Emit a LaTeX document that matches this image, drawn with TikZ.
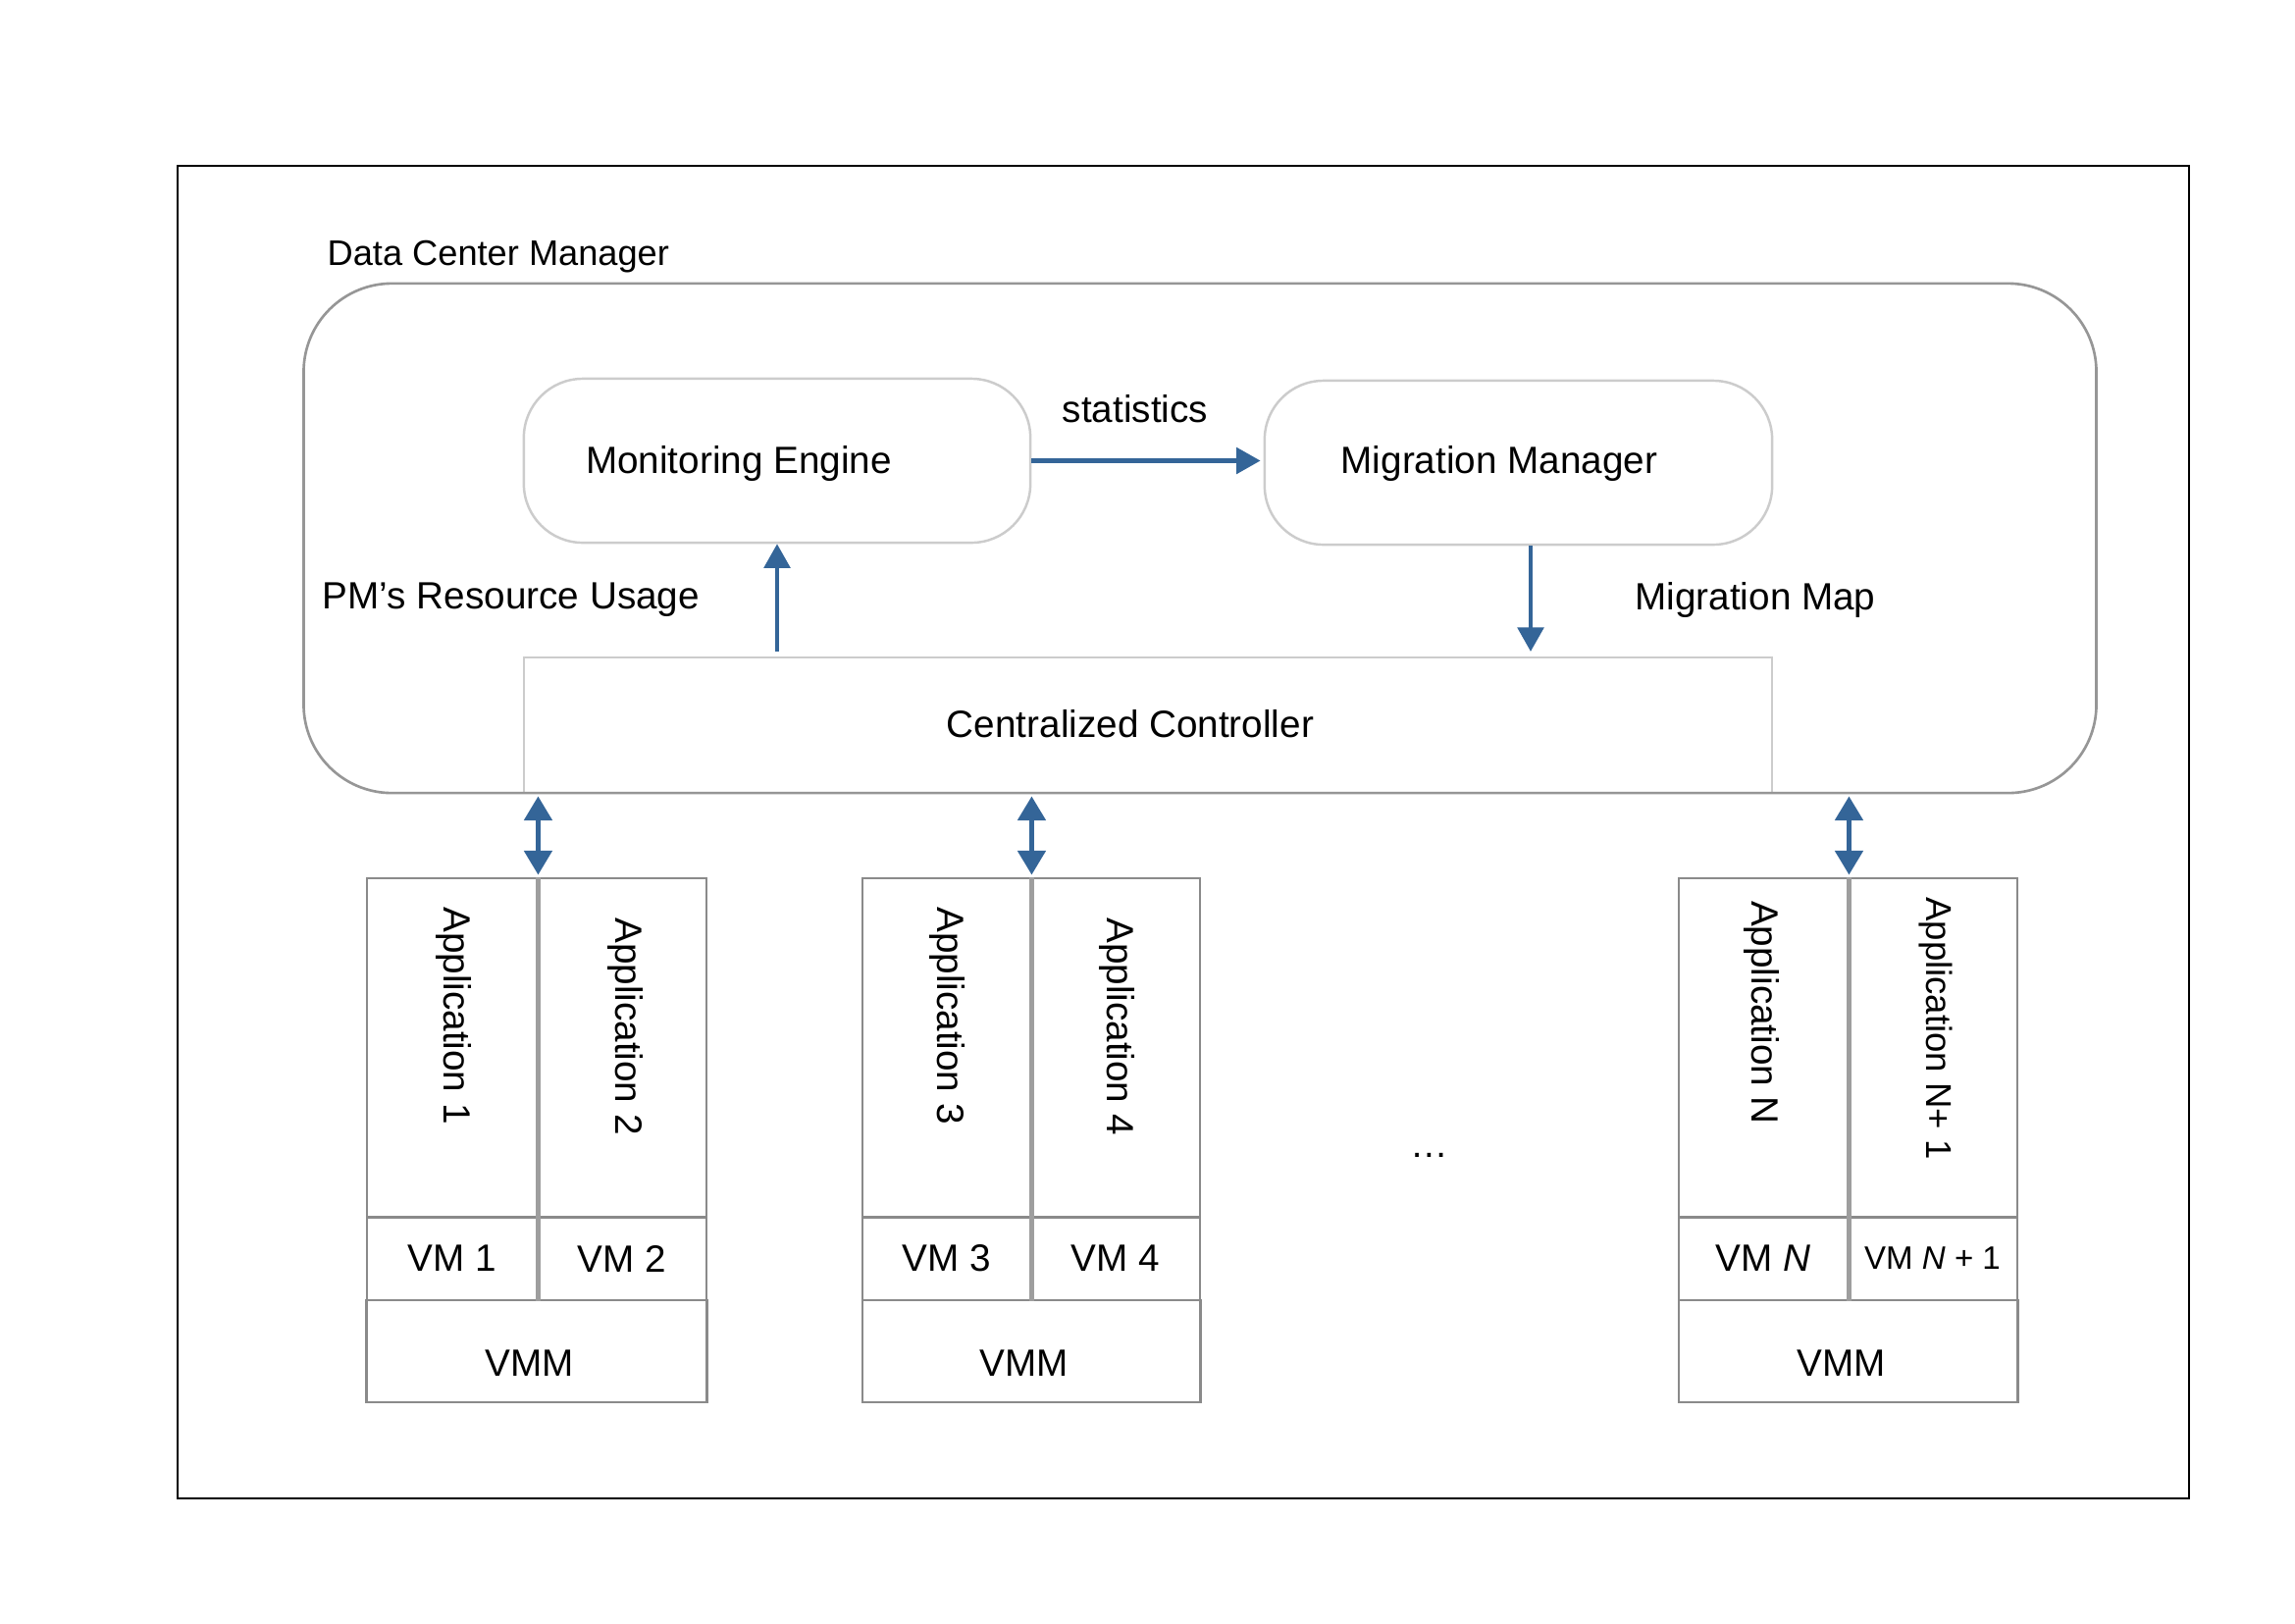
\documentclass[tikz,border=0pt]{standalone}
\usepackage{fontspec}
\setmainfont{Liberation Sans}
\usetikzlibrary{arrows.meta,calc}
\definecolor{arrowblue}{RGB}{52,101,152}
\definecolor{dcmgray}{RGB}{150,150,150}
\definecolor{softgray}{RGB}{204,204,204}
\definecolor{pmgray}{RGB}{138,138,138}
\definecolor{divgray}{RGB}{158,158,158}
\begin{document}
\begin{tikzpicture}[x=0.01cm,y=-0.01cm,
  txt/.style={inner sep=0pt, font=\fontsize{11}{13}\selectfont},
  apptxt/.style={txt, rotate=-90},
  dcmbox/.style={draw=dcmgray, line width=0.75pt, rounded corners=0.9cm, inner sep=0pt},
  softbox/.style={draw=softgray, line width=0.7pt, rounded corners=0.6cm, inner sep=0pt},
  ccbox/.style={draw=softgray, line width=0.55pt, inner sep=0pt},
  cell/.style={draw=pmgray, line width=0.8pt, inner sep=0pt, font=\fontsize{11}{13}\selectfont},
  divider/.style={draw=divgray, line width=1.2pt},
  flow/.style={draw=arrowblue, line width=1.3pt, -{Triangle[length=7pt,width=7.5pt]}},
  flowtwo/.style={draw=arrowblue, line width=1.3pt, {Triangle[length=7pt,width=8pt]}-{Triangle[length=7pt,width=8pt]}}
]
\useasboundingbox (0,0) rectangle (2339,1654);
\fill[white] (0,0) rectangle (2339,1654);

% outer frame
\node[draw=black, line width=0.6pt, minimum width=20.48cm, minimum height=13.58cm, inner sep=0pt] (frame) at (1206,848) {};

% data center manager
\node[ccbox, minimum width=12.72cm, minimum height=1.38cm] (cc) at (1170,739) {};
\node[dcmbox, minimum width=18.26cm, minimum height=5.19cm] (dcm) at (1223,548.5) {};
\node[txt, font=\fontsize{10.3}{12}\selectfont, anchor=west] (dcmlabel) at (333,262) {Data Center Manager};

\node[softbox, minimum width=5.16cm, minimum height=1.67cm] (me) at (792,469.5) {};
\node[softbox, minimum width=5.17cm, minimum height=1.67cm] (mm) at (1547.5,471.5) {};
\node[txt] (metxt) at (753,472) {Monitoring Engine};
\node[txt] (mmtxt) at (1528,472) {Migration Manager};
\node[txt] (cctxt) at (1152,738) {Centralized Controller};
\node[txt] (stats) at (1157,417) {statistics};
\node[txt] (pmru) at (521,611) {PM’s Resource Usage};
\node[txt] (mmap) at (1789,611) {Migration Map};

% arrows inside DCM
\draw[flow, shorten >=0.03cm] (me.east) -- (me.east -| mm.west);
\draw[flow, shorten <=0.05cm] (cc.north -| me.south) -- (me.south);
\coordinate (mmout) at ($(mm.south)+(12.5,0)$);
\draw[flow, shorten >=0.05cm] (mmout) -- (mmout |- cc.north);

% PM 1
\node[cell, minimum width=1.73cm, minimum height=3.45cm] (app1) at (460.5,1067.5) {};
\node[cell, minimum width=1.73cm, minimum height=3.45cm] (app2) at (633.5,1067.5) {};
\node[cell, minimum width=1.73cm, minimum height=0.85cm] (vm1) at (460.5,1282.5) {VM 1};
\node[cell, minimum width=1.73cm, minimum height=0.85cm] (vm2) at (633.5,1282.5) {VM 2};
\node[cell, minimum width=3.46cm, minimum height=1.04cm] (vmm1) at (547,1377) {};
\draw[divider] (app1.north east) -- (vm1.south east);
\node[apptxt] (a1txt) at (462,1035) {Application 1};
\node[apptxt] (a2txt) at (637,1046) {Application 2};
\node[txt] (vmm1txt) at ($(vmm1.center)+(-7,12)$) {VMM};

% PM 2
\node[cell, minimum width=1.71cm, minimum height=3.45cm] (app3) at (964.5,1067.5) {};
\node[cell, minimum width=1.73cm, minimum height=3.45cm] (app4) at (1136.5,1067.5) {};
\node[cell, minimum width=1.71cm, minimum height=0.85cm] (vm3) at (964.5,1282.5) {VM 3};
\node[cell, minimum width=1.73cm, minimum height=0.85cm] (vm4) at (1136.5,1282.5) {VM 4};
\node[cell, minimum width=3.44cm, minimum height=1.04cm] (vmm2) at (1051,1377) {};
\draw[divider] (app3.north east) -- (vm3.south east);
\node[apptxt] (a3txt) at (965,1035) {Application 3};
\node[apptxt] (a4txt) at (1138,1046) {Application 4};
\node[txt] (vmm2txt) at ($(vmm2.center)+(-7,12)$) {VMM};

% PM 3
\node[cell, minimum width=1.72cm, minimum height=3.45cm] (appn) at (1797,1067.5) {};
\node[cell, minimum width=1.73cm, minimum height=3.45cm] (appn1) at (1969.5,1067.5) {};
\node[cell, minimum width=1.72cm, minimum height=0.85cm] (vmn) at (1797,1282.5) {VM \textit{N}};
\node[cell, minimum width=1.73cm, minimum height=0.85cm, font=\fontsize{9.4}{11}\selectfont] (vmn1) at (1969.5,1282.5) {VM \textit{N} + 1};
\node[cell, minimum width=3.45cm, minimum height=1.04cm] (vmm3) at (1883.5,1377) {};
\draw[divider] (appn.north east) -- (vmn.south east);
\node[apptxt] (antxt) at (1795,1032) {Application N};
\node[apptxt, font=\fontsize{10.4}{12}\selectfont] (an1txt) at (1973,1048) {Application N+ 1};
\node[txt] (vmm3txt) at ($(vmm3.center)+(-7,12)$) {VMM};

% ellipsis
\node[txt] (dots) at (1457,1177) {\ldots};

% controller <-> PM arrows
\draw[flowtwo, shorten <=0.02cm, shorten >=0.02cm] (app1.north east |- dcm.south) -- (app1.north east);
\draw[flowtwo, shorten <=0.02cm, shorten >=0.02cm] (app3.north east |- dcm.south) -- (app3.north east);
\draw[flowtwo, shorten <=0.02cm, shorten >=0.02cm] (appn.north east |- dcm.south) -- (appn.north east);
\end{tikzpicture}
\end{document}
